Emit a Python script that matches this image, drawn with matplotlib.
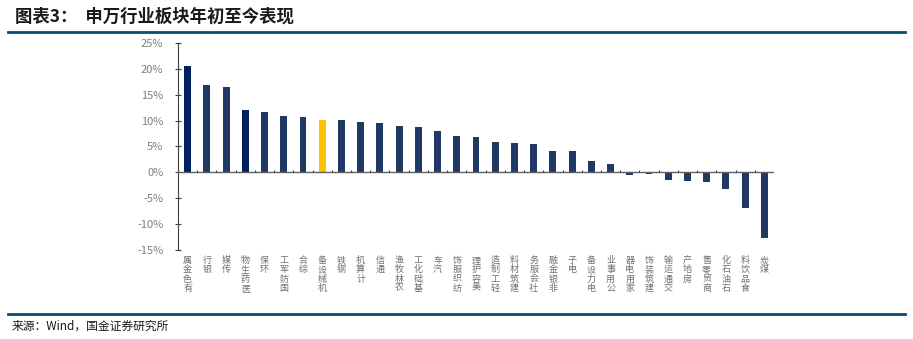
import matplotlib
matplotlib.use("Agg")
import matplotlib.pyplot as plt
import numpy as np
from matplotlib.lines import Line2D

plt.rcParams['font.family'] = ['Noto Sans CJK SC', 'DejaVu Sans']

categories = ["有色金属", "银行", "传媒", "医药生物", "环保", "国防军工", "综合", "机械设备",
              "钢铁", "计算机", "通信", "农林牧渔", "基础化工", "汽车", "纺织服饰", "美容护理",
              "轻工制造", "建筑材料", "社会服务", "非银金融", "电子", "电力设备", "公用事业",
              "家用电器", "建筑装饰", "交通运输", "房地产", "商贸零售", "石油石化", "食品饮料", "煤炭"]
values = [20.6, 16.8, 16.4, 12.1, 11.7, 10.8, 10.6, 10.2, 10.2, 9.8, 9.6, 9.0, 8.8, 7.9,
          7.1, 6.8, 5.9, 5.7, 5.4, 4.2, 4.2, 2.3, 1.7, -0.4, -0.3, -1.5, -1.7, -1.9, -3.2,
          -6.8, -12.6]
yticks = [-15, -10, -5, 0, 5, 10, 15, 20, 25]
highlight = "机械设备"
dark_ones = ["有色金属", "医药生物"]

navy = "#1F3864"
darknavy = "#002060"
yellow = "#FFC000"
colors = [yellow if c == highlight else (darknavy if c in dark_ones else navy) for c in categories]

fig = plt.figure(figsize=(9.13, 3.39), dpi=100)
ax = fig.add_axes([178/913, 1-250.3/339, (774-178)/913, (250.3-42.7)/339])

x = np.arange(len(categories))
ax.bar(x, values, width=0.36, color=colors, zorder=2)

ax.set_xlim(-0.5, len(categories)-0.5)
ax.set_ylim(-15, 25)
ax.set_yticks(yticks)
ax.set_yticklabels([f"{v}%" for v in yticks])
ax.tick_params(axis='y', direction='inout', length=5, width=0.8, pad=8,
               labelsize=8, labelcolor="#7F7F7F", color="#404040")
for s in ["top", "right", "bottom"]:
    ax.spines[s].set_visible(False)
ax.spines["left"].set_color("#404040")
ax.spines["left"].set_linewidth(0.8)

# zero line and boundary ticks
ax.axhline(0, color="#606060", lw=1.0, zorder=3)
bounds = np.arange(len(categories)+1) - 0.5
ax.vlines(bounds[1:], 0, 0.55, color="#404040", lw=0.8, zorder=3)

ax.set_xticks(x)
ax.set_xticklabels(["\n".join(reversed(c)) for c in categories], fontsize=6.5,
                   color="#707070", linespacing=1.05, va="top")
ax.tick_params(axis='x', length=0, pad=4)

# header / footer
fig.text(15/913, 1-17/339, "图表3：  申万行业板块年初至今表现", fontsize=12.5, fontweight="bold",
         style="italic", color="#1a1a1a", va="center", ha="left")
fig.add_artist(Line2D([8/913, 905/913], [1-32/339, 1-32/339], color="#0B4D72", lw=2))
fig.add_artist(Line2D([8/913, 905/913], [1-314/339, 1-314/339], color="#0B4D72", lw=2))
fig.text(12/913, 1-326/339, "来源：Wind，国金证券研究所", fontsize=8.5, color="#1a1a1a",
         va="center", ha="left")

fig.savefig("out.png", dpi=100)
